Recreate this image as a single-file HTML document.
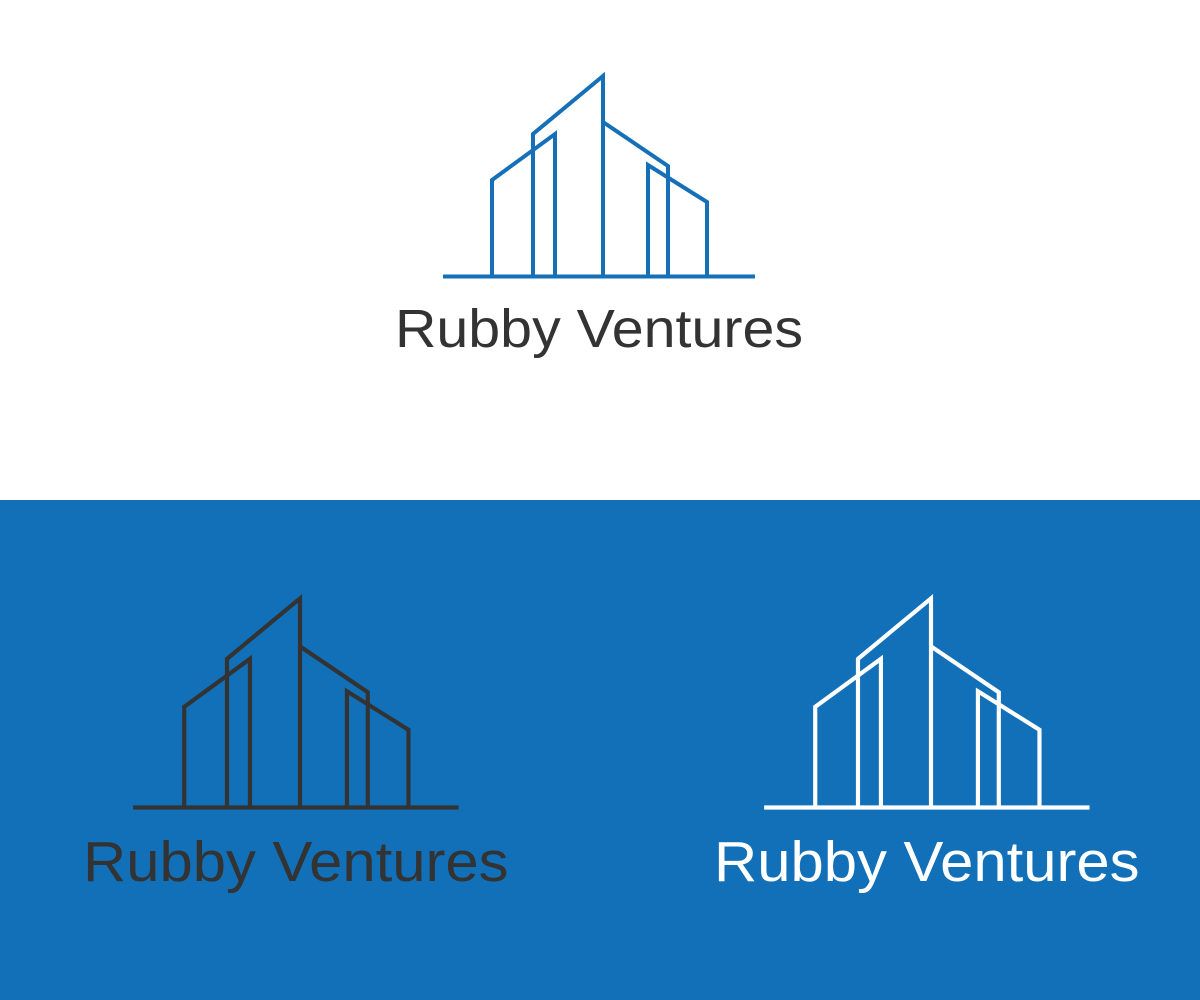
<!DOCTYPE html>
<html><head><meta charset="utf-8"><style>
html,body{margin:0;padding:0;width:1200px;height:1000px;overflow:hidden;background:#fff}
svg{display:block}
</style></head><body>
<svg width="1200" height="1000" viewBox="0 0 1200 1000" xmlns="http://www.w3.org/2000/svg">
<defs>
<g id="bld" fill="none" stroke-width="4" stroke-linejoin="miter" stroke-linecap="butt">
<line x1="443" y1="276.5" x2="755" y2="276.5"/>
<polyline points="492,276 492,180 555,134 555,276"/>
<polyline points="533,276 533,134 603,76 603,276"/>
<polyline points="603,122 668,166 668,276"/>
<polyline points="648,276 648,165 707,202 707,276"/>
</g>
</defs>
<rect x="0" y="500" width="1200" height="500" fill="#1170b7"/>
<g stroke="#1570b8"><use href="#bld"/></g>
<text x="395" y="347" font-family="Liberation Sans, sans-serif" font-size="54" fill="#333" textLength="408" lengthAdjust="spacingAndGlyphs">Rubby Ventures</text>

<g transform="translate(300,807) scale(1.043) translate(-603,-276)">
<g stroke="#333"><use href="#bld"/></g>
<text x="395" y="347" font-family="Liberation Sans, sans-serif" font-size="54" fill="#333" textLength="408" lengthAdjust="spacingAndGlyphs">Rubby Ventures</text>
</g>
<g transform="translate(931,807) scale(1.043) translate(-603,-276)">
<g stroke="#fff"><use href="#bld"/></g>
<text x="395" y="347" font-family="Liberation Sans, sans-serif" font-size="54" fill="#fff" textLength="408" lengthAdjust="spacingAndGlyphs">Rubby Ventures</text>
</g>
</svg>
</body></html>
